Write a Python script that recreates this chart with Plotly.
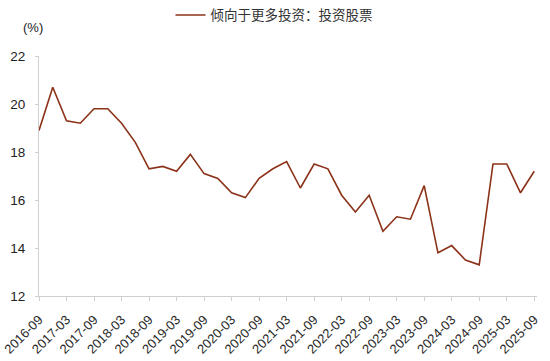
import plotly.graph_objects as go

quarters = ["2016-09","2016-12","2017-03","2017-06","2017-09","2017-12","2018-03","2018-06",
            "2018-09","2018-12","2019-03","2019-06","2019-09","2019-12","2020-03","2020-06",
            "2020-09","2020-12","2021-03","2021-06","2021-09","2021-12","2022-03","2022-06",
            "2022-09","2022-12","2023-03","2023-06","2023-09","2023-12","2024-03","2024-06",
            "2024-09","2024-12","2025-03","2025-06","2025-09"]
values = [18.9,20.7,19.3,19.2,19.8,19.8,19.2,18.4,17.3,17.4,17.2,17.9,17.1,16.9,16.3,16.1,
          16.9,17.3,17.6,16.5,17.5,17.3,16.2,15.5,16.2,14.7,15.3,15.2,16.6,13.8,14.1,13.5,
          13.3,17.5,17.5,16.3,17.2]
tick_labels = quarters[::2]
series_name = "倾向于更多投资：投资股票"

color = "#8B3218"
font_family = "Liberation Sans, Arial, Noto Sans CJK SC, sans-serif"

fig = go.Figure()
fig.add_trace(go.Scatter(x=quarters, y=values, mode="lines", name=series_name,
                         line=dict(color=color, width=1.6), showlegend=True))

fig.update_layout(
    width=550, height=361,
    margin=dict(l=39, r=13, t=56, b=65),
    paper_bgcolor="white", plot_bgcolor="white",
    font=dict(family=font_family, color="#222222"),
    showlegend=True,
    legend=dict(orientation="h", x=0.31, xanchor="left", y=0.958, yanchor="middle",
                xref="container", yref="container", itemwidth=30,
                font=dict(family="Noto Sans CJK SC, sans-serif", size=13.5, color="#333333"),
                bgcolor="rgba(0,0,0,0)"),
    xaxis=dict(type="category", range=[0, 36.2], tickmode="array", tickvals=tick_labels,
               ticktext=tick_labels, tickangle=-45, showgrid=False, showline=True,
               linecolor="#d0d0d0", linewidth=1, ticks="outside", ticklen=4,
               tickcolor="#d0d0d0", tickfont=dict(size=13, color="#2a2a2a"),
               automargin=False, ticklabelstandoff=6),
    yaxis=dict(range=[12, 22], dtick=2, showgrid=False, showline=True, linecolor="#d0d0d0",
               linewidth=1, ticks="outside", ticklen=3, tickcolor="#d0d0d0",
               tickfont=dict(size=13.5, color="#222222"), zeroline=False,
               automargin=False, ticklabelstandoff=7),
    annotations=[dict(text="(%)", xref="paper", yref="paper", x=(33 - 39) / 498,
                      y=(296 - 28) / 240,
                      xanchor="center", yanchor="middle", showarrow=False,
                      font=dict(size=13, color="#222222"))],
)

fig.write_html("out.html", config={"displayModeBar": False},
               post_script="document.body.style.margin='0px';")
